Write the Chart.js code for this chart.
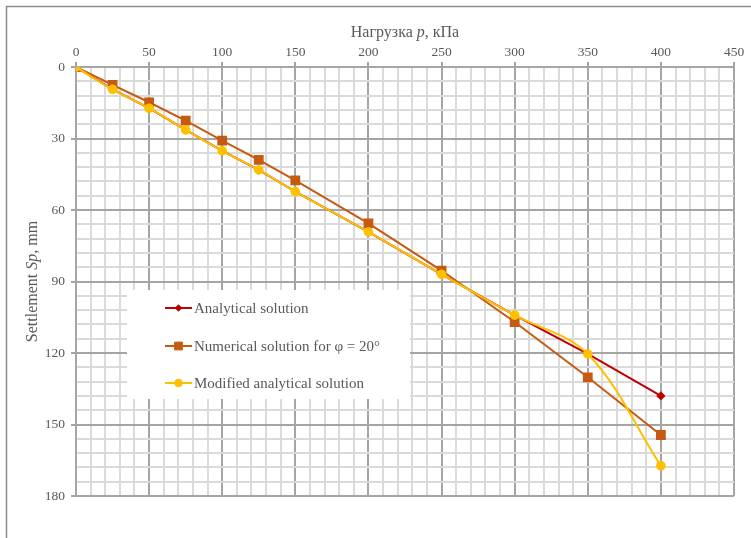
<!DOCTYPE html>
<html>
<head>
<meta charset="utf-8">
<script src="https://cdn.jsdelivr.net/npm/chart.js@4/dist/chart.umd.min.js"></script>
<style>
html,body{margin:0;padding:0;background:#fff;}
#wrap{position:relative;width:751px;height:538px;}
canvas{display:block;}
</style>
</head>
<body>
<div id="wrap"><canvas id="c" width="751" height="538"></canvas></div>
<script>
// ---- data ----
const loads = [0, 25, 50, 75, 100, 125, 150, 200, 250, 300, 350, 400];
const analytical = [0, 9.4, 17.3, 26.4, 35.2, 43.2, 52.3, 69.2, 87.0, 104.1, 120.4, 138.0];
const numerical = [0, 7.5, 14.8, 22.5, 30.9, 39.0, 47.6, 65.6, 85.4, 107.0, 130.2, 154.4];
const modified = [0, 9.4, 17.3, 26.4, 35.2, 43.2, 52.3, 69.2, 87.0, 104.1, 120.4, 167.3];
const seriesNames = ['Analytical solution', 'Numerical solution for φ = 20°', 'Modified analytical solution'];
const xTickLabels = [0, 50, 100, 150, 200, 250, 300, 350, 400, 450];
const yTickLabels = [0, 30, 60, 90, 120, 150, 180];

const RED = '#C00000', BROWN = '#C55A11', YELLOW = '#FFC000';
const TXT = '#595959';
const FONT = '"Liberation Serif", "Times New Roman", serif';
const MAJOR = '#a5a5a5', MINOR = '#dadada';

const pts = arr => loads.map((x, i) => ({x: x, y: arr[i]}));

const frame = {
  id: 'frame',
  beforeDraw(chart) {
    const ctx = chart.ctx;
    ctx.save();
    ctx.fillStyle = '#fff';
    ctx.fillRect(0, 0, chart.width, chart.height);
    ctx.strokeStyle = '#8c8c8c';
    ctx.lineWidth = 1.5;
    ctx.strokeRect(6.5, 6.5, 900, 700);
    ctx.restore();
  },
  afterDraw(chart) {
    const ctx = chart.ctx;
    const xs = chart.scales.x, ys = chart.scales.y;
    ctx.save();
    ctx.fillStyle = TXT;
    ctx.textBaseline = 'middle';
    const drawParts = (parts, cx, cy) => {
      let total = 0;
      parts.forEach(p => { ctx.font = p[1] + '16px ' + FONT; total += ctx.measureText(p[0]).width; });
      let x = cx - total / 2;
      ctx.textAlign = 'left';
      parts.forEach(p => { ctx.font = p[1] + '16px ' + FONT; ctx.fillText(p[0], x, cy); x += ctx.measureText(p[0]).width; });
    };
    // x title
    drawParts([['Нагрузка ', ''], ['p', 'italic '], [', кПа', '']], (xs.left + xs.right) / 2, 33);
    // y title
    ctx.save();
    ctx.translate(33, (ys.top + ys.bottom) / 2);
    ctx.rotate(-Math.PI / 2);
    drawParts([['Settlement ', ''], ['Sp', 'italic '], [', mm', '']], 0, 0);
    ctx.restore();

    // legend
    ctx.fillStyle = '#fff';
    ctx.fillRect(127, 290, 283, 109);
    const rows = [308, 346, 383];
    const ds = chart.data.datasets;
    rows.forEach((ry, i) => {
      const d = ds[i];
      ctx.strokeStyle = d.borderColor;
      ctx.lineWidth = 2;
      ctx.beginPath(); ctx.moveTo(165, ry); ctx.lineTo(192, ry); ctx.stroke();
      ctx.fillStyle = d.pointBackgroundColor;
      ctx.strokeStyle = d.pointBorderColor;
      ctx.lineWidth = 1;
      Chart.helpers.drawPoint(ctx, {pointStyle: d.pointStyle, radius: d.pointRadius, borderWidth: 1, rotation: 0}, 178.5, ry);
      ctx.fillStyle = TXT;
      ctx.font = '15px ' + FONT;
      ctx.textAlign = 'left';
      ctx.fillText(seriesNames[i], 194, ry + 1);
    });
    ctx.restore();
  }
};

new Chart(document.getElementById('c'), {
  type: 'line',
  data: {
    datasets: [
      {label: seriesNames[0], data: pts(analytical), borderColor: RED, backgroundColor: RED,
       pointStyle: 'rectRot', pointRadius: 3.2, pointBackgroundColor: RED, pointBorderColor: RED,
       borderWidth: 2, tension: 0, order: 3},
      {label: seriesNames[1], data: pts(numerical), borderColor: BROWN, backgroundColor: BROWN,
       pointStyle: 'rect', pointRadius: 5.5, pointBackgroundColor: BROWN, pointBorderColor: BROWN,
       borderWidth: 2, tension: 0, order: 2},
      {label: seriesNames[2], data: pts(modified), borderColor: YELLOW, backgroundColor: YELLOW,
       pointStyle: 'circle', pointRadius: 3.8, pointBackgroundColor: YELLOW, pointBorderColor: YELLOW,
       borderWidth: 2, tension: 0.35, order: 1}
    ]
  },
  options: {
    responsive: false,
    animation: false,
    devicePixelRatio: 1,
    layout: {padding: {left: 0, top: 0, right: 17, bottom: 42}},
    plugins: {legend: {display: false}, tooltip: {enabled: false}, title: {display: false}},
    scales: {
      x: {
        type: 'linear', position: 'top', min: 0, max: 450,
        afterFit(s) { s.height = 67; },
        ticks: {
          stepSize: 10, padding: 1, color: TXT, font: {family: FONT, size: 13.5},
          autoSkip: false, maxRotation: 0,
          callback: v => xTickLabels.includes(v) ? String(v) : ''
        },
        grid: {
          drawTicks: true, tickLength: 5,
          color: c => (c.tick && c.tick.value % 50 === 0) ? MAJOR : MINOR,
          lineWidth: 2,
          tickColor: c => (c.tick && c.tick.value % 50 === 0) ? MAJOR : 'rgba(0,0,0,0)',
          tickWidth: 2
        },
        border: {display: true, color: MAJOR, width: 2}
      },
      y: {
        type: 'linear', reverse: true, min: 0, max: 180,
        afterFit(s) { s.width = 76; },
        ticks: {
          stepSize: 6, padding: 6, color: TXT, font: {family: FONT, size: 13.5},
          autoSkip: false,
          callback: v => yTickLabels.includes(v) ? String(v) : ''
        },
        grid: {
          drawTicks: true, tickLength: 5,
          color: c => (c.tick && c.tick.value % 30 === 0) ? MAJOR : MINOR,
          lineWidth: 2,
          tickColor: c => (c.tick && c.tick.value % 30 === 0) ? MAJOR : 'rgba(0,0,0,0)',
          tickWidth: 2
        },
        border: {display: true, color: MAJOR, width: 2}
      }
    }
  },
  plugins: [frame]
});
</script>
</body>
</html>
